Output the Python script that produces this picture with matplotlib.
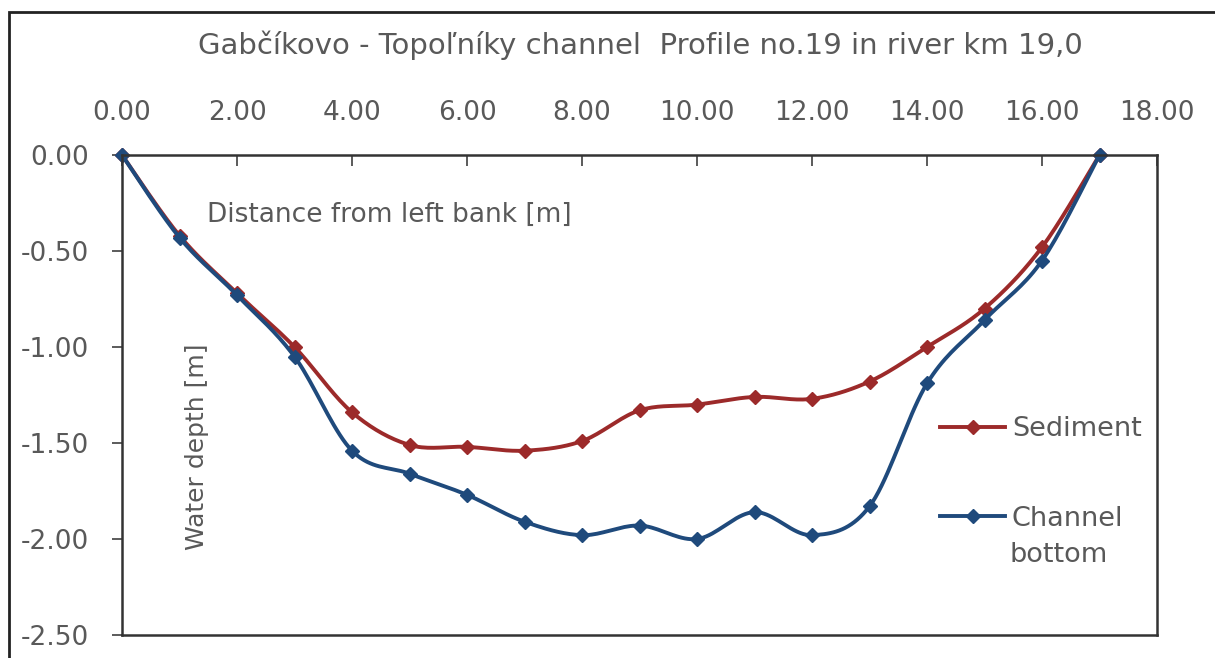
import numpy as np
import matplotlib
matplotlib.use('Agg')
import matplotlib.pyplot as plt
from matplotlib.patches import Rectangle

plt.rcParams['font.family'] = ['DejaVu Sans']

# distance from left bank [m]
distance = [0, 1, 2, 3, 4, 5, 6, 7, 8, 9, 10, 11, 12, 13, 14, 15, 16, 17]
sediment = [0.00, -0.42, -0.72, -1.00, -1.34, -1.51, -1.52, -1.54, -1.49,
            -1.33, -1.30, -1.26, -1.27, -1.18, -1.00, -0.80, -0.48, 0.00]
channel_bottom = [0.00, -0.43, -0.73, -1.05, -1.54, -1.66, -1.77, -1.91, -1.98,
                  -1.93, -2.00, -1.86, -1.98, -1.83, -1.19, -0.86, -0.55, 0.00]
x_ticks = [0, 2, 4, 6, 8, 10, 12, 14, 16, 18]
y_ticks = [0.0, -0.5, -1.0, -1.5, -2.0, -2.5]

title = 'Gabčíkovo - Topoľníky channel  Profile no.19 in river km 19,0'
red = '#9C2A2A'
blue = '#1F4A7C'
grey = '#595959'
fs = 19


def smooth(xs, ys, n=20):
    # excel-like smoothed line (bezier through the points)
    xs = np.asarray(xs, float)
    ys = np.asarray(ys, float)
    px = np.concatenate([[xs[0]], xs, [xs[-1]]])
    py = np.concatenate([[ys[0]], ys, [ys[-1]]])
    outx, outy = [], []
    t = np.linspace(0, 1, n)
    for i in range(1, len(px) - 2):
        p0 = np.array([px[i], py[i]])
        p3 = np.array([px[i + 1], py[i + 1]])
        p1 = p0 + (np.array([px[i + 1], py[i + 1]]) - np.array([px[i - 1], py[i - 1]])) / 6
        p2 = p3 - (np.array([px[i + 2], py[i + 2]]) - np.array([px[i], py[i]])) / 6
        b = ((1 - t) ** 3)[:, None] * p0 + (3 * (1 - t) ** 2 * t)[:, None] * p1 \
            + (3 * (1 - t) * t ** 2)[:, None] * p2 + (t ** 3)[:, None] * p3
        outx.extend(b[:, 0])
        outy.extend(b[:, 1])
    return outx, outy


fig = plt.figure(figsize=(12.15, 6.58), dpi=100)
ax = fig.add_axes([122 / 1215, 1 - 635 / 658, (1157 - 122) / 1215, (635 - 155) / 658])

for ys, c in [(sediment, red), (channel_bottom, blue)]:
    sx, sy = smooth(distance, ys)
    ax.plot(sx, sy, color=c, lw=2.8, solid_capstyle='round', clip_on=False)
    ax.plot(distance, ys, ls='none', marker='D', ms=7, color=c, clip_on=False)

ax.set_xlim(0, 18)
ax.set_ylim(-2.5, 0)
ax.xaxis.tick_top()
ax.set_xticks(x_ticks)
ax.set_xticklabels(['%.2f' % v for v in x_ticks])
ax.set_yticks(y_ticks)
ax.set_yticklabels(['%.2f' % v for v in y_ticks])
ax.tick_params(axis='x', direction='in', length=8, width=1.2, colors='#404040',
               labelcolor=grey, labelsize=fs, pad=21)
ax.tick_params(axis='y', direction='out', length=7, width=1.2, colors='#404040',
               labelcolor=grey, labelsize=fs, pad=17)
for s in ax.spines.values():
    s.set_color('#333333')
    s.set_linewidth(1.8)

fig.text(207 / 1215, 1 - 215 / 658, 'Distance from left bank [m]',
         fontsize=19, color=grey, va='center', ha='left')
fig.text(197 / 1215, 1 - 447 / 658, 'Water depth [m]',
         fontsize=18, color=grey, va='center', ha='center', rotation=90)
fig.text(640 / 1215, 1 - 45 / 658, title, fontsize=21, color=grey, ha='center', va='center')

# legend
h1, = ax.plot([], [], color=red, lw=2.8, marker='D', ms=7)
h2, = ax.plot([], [], color=blue, lw=2.8, marker='D', ms=7)
leg = ax.legend([h1, h2], ['Sediment', 'Channel'], loc='upper left',
                bbox_to_anchor=(940 / 1215, 1 - 416 / 658), bbox_transform=fig.transFigure,
                frameon=False, fontsize=19.5, labelcolor=grey, handlelength=2.4,
                handletextpad=0.25, labelspacing=2.35, borderpad=0, borderaxespad=0)
fig.text(1010 / 1215, 1 - 555 / 658, 'bottom', fontsize=19.5, color=grey, va='center', ha='left')

# outer frame of the picture
fig.patches.append(Rectangle((9 / 1215, -0.05), 1.2, 1 - 12 / 658 + 0.05, transform=fig.transFigure,
                             fill=False, edgecolor='#222222', lw=2.0))

fig.savefig('out.png', dpi=100)
